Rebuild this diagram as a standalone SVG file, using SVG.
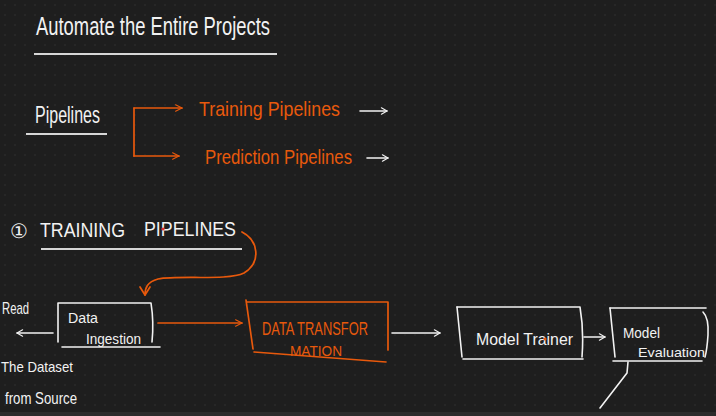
<svg xmlns="http://www.w3.org/2000/svg" width="716" height="416" viewBox="0 0 716 416">
<defs>
<pattern id="dots" width="10" height="10" patternUnits="userSpaceOnUse"><circle cx="5" cy="5" r="0.7" fill="#363636"/></pattern>
<marker id="ao" viewBox="0 0 10 10" refX="9" refY="5" markerWidth="8" markerHeight="8" orient="auto" markerUnits="userSpaceOnUse"><path d="M1 1 L9 5 L1 9" fill="none" stroke="#e8590c" stroke-width="1.4" stroke-linecap="round" stroke-linejoin="round"/></marker>
<marker id="aw" viewBox="0 0 10 10" refX="9" refY="5" markerWidth="8" markerHeight="8" orient="auto" markerUnits="userSpaceOnUse"><path d="M2 1 L9 5 L2 9" fill="none" stroke="#f2f2f2" stroke-width="1.4" stroke-linecap="round" stroke-linejoin="round"/></marker>
<style>
.w{stroke:#f2f2f2;fill:none;stroke-width:1.6;stroke-linecap:round;stroke-linejoin:round}
.o{stroke:#e8590c;fill:none;stroke-width:1.7;stroke-linecap:round;stroke-linejoin:round}
.u{stroke:#d6d6d6;stroke-width:2;fill:none}
.tw{fill:#f2f2f2;font-family:"Liberation Sans",Arial,sans-serif}
.to{fill:#e8590c;font-family:"Liberation Sans",Arial,sans-serif}
</style>
</defs>
<rect width="716" height="416" fill="#1e1e1e"/>
<rect width="716" height="412" fill="url(#dots)"/>
<rect y="412" width="716" height="4" fill="#2b2b2b"/>

<g id="title">
<text class="tw" x="36" y="35" font-size="25" textLength="234" lengthAdjust="spacingAndGlyphs">Automate the Entire Projects</text>
<line class="u" x1="34" y1="54" x2="277" y2="54"/>
</g>

<g id="pipelines">
<text class="tw" x="35" y="123" font-size="24" textLength="65" lengthAdjust="spacingAndGlyphs">Pipelines</text>
<line class="u" x1="26" y1="134" x2="107" y2="134"/>
</g>

<g id="training-pipelines">
<text class="to" x="199" y="116" font-size="21" textLength="141" lengthAdjust="spacingAndGlyphs">Training Pipelines</text>
</g>
<g id="prediction-pipelines">
<text class="to" x="205" y="164" font-size="20" textLength="147" lengthAdjust="spacingAndGlyphs">Prediction Pipelines</text>
</g>

<g id="section-heading">
<text class="tw" x="10" y="238" font-size="20" font-family="DejaVu Sans">①</text>
<text class="tw" x="40" y="237" font-size="20" textLength="85" lengthAdjust="spacingAndGlyphs">TRAINING</text>
<text class="tw" x="144" y="236" font-size="20" textLength="92" lengthAdjust="spacingAndGlyphs">PIPELINES</text>
<circle cx="163" cy="229" r="1.6" fill="#e03131"/>
<line class="u" x1="41" y1="249" x2="242" y2="249"/>
</g>

<g id="read-label">
<text class="tw" x="2" y="314" font-size="17" textLength="27" lengthAdjust="spacingAndGlyphs">Read</text>
<text class="tw" x="1" y="372" font-size="15" textLength="72" lengthAdjust="spacingAndGlyphs">The Dataset</text>
<text class="tw" x="5" y="404" font-size="17" textLength="72" lengthAdjust="spacingAndGlyphs">from Source</text>
</g>

<g id="data-ingestion">
<path class="w" d="M58 342 L58 303 L151 303 Q154 322 152 342"/>
<path class="w" d="M62 347 L160 347"/>
<text class="tw" x="68" y="323" font-size="14" textLength="30" lengthAdjust="spacingAndGlyphs">Data</text>
<text class="tw" x="86" y="344" font-size="14" textLength="55" lengthAdjust="spacingAndGlyphs">Ingestion</text>
</g>

<g id="data-transformation">
<path class="o" d="M246 300 L253 349"/>
<path class="o" d="M247 302 L388 302 L388 350"/>
<path class="o" d="M254 352 L386 362"/>
<text class="to" x="262" y="335" font-size="19" textLength="106" lengthAdjust="spacingAndGlyphs">DATA TRANSFOR</text>
<text class="to" x="290" y="356" font-size="15" textLength="52" lengthAdjust="spacingAndGlyphs">MATION</text>
</g>

<g id="model-trainer">
<path class="w" d="M457 307 L462 357"/>
<path class="w" d="M457 307 L580 307 Q584 330 582 357"/>
<path class="w" d="M463 359 L583 359"/>
<text class="tw" x="476" y="345" font-size="17" textLength="97" lengthAdjust="spacingAndGlyphs">Model Trainer</text>
<circle cx="545" cy="339" r="1.6" fill="#e8590c"/>
</g>

<g id="model-evaluation">
<path class="w" d="M610 308 L615 357"/>
<path class="w" d="M610 308 L706 308"/>
<path class="w" d="M703 312 Q709 318 708 335 Q707 350 705 357"/>
<path class="w" d="M613 361 L702 361"/>
<text class="tw" x="623" y="338" font-size="14" textLength="37" lengthAdjust="spacingAndGlyphs">Model</text>
<text class="tw" x="638" y="357" font-size="13" textLength="67" lengthAdjust="spacingAndGlyphs">Evaluation</text>
</g>

<g id="connectors">
<path class="o" d="M134 108 L134 156"/>
<path class="o" d="M134 108 L182 108" marker-end="url(#ao)"/>
<path class="o" d="M134 156 L179 156" marker-end="url(#ao)"/>
<path class="w" d="M360 111 L387 111" marker-end="url(#aw)"/>
<path class="w" d="M367 158 L388 158" marker-end="url(#aw)"/>
<path class="o" d="M242 232 C258 240 262 262 244 273 C228 281 180 275 158 279 C147 282 145 288 145 295"/>
<path class="o" d="M140 287 L145 295 L150 287"/>
<path class="w" d="M53 333 L17 333" marker-end="url(#aw)"/>
<path class="o" d="M158 323 L242 323" marker-end="url(#ao)"/>
<path class="w" d="M392 333 L440 333" marker-end="url(#aw)"/>
<path class="w" d="M584 337 L605 337" marker-end="url(#aw)"/>
<path class="w" d="M628 362 L627 373 L600 408"/>
</g>
</svg>
